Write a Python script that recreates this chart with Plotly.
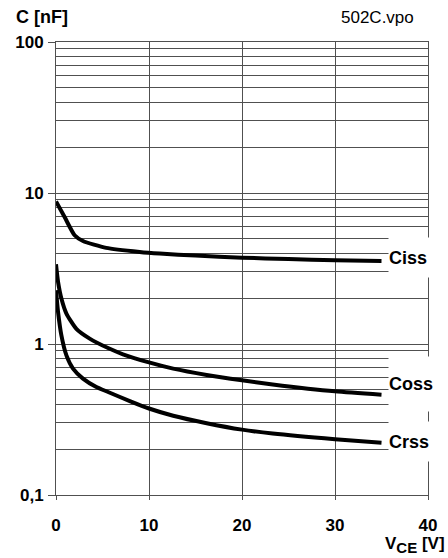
import plotly.graph_objects as go

# Data (VCE in V, C in nF)
ciss_v = [0, 0.94, 2.0, 2.9, 5.4, 9, 11.15, 15, 20, 25, 30, 35]
ciss_c = [8.8, 6.9, 5.25, 4.81, 4.33, 4.07, 3.97, 3.85, 3.73, 3.65, 3.58, 3.55]

coss_v = [0, 0.22, 0.58, 1.12, 2.19, 3.62, 5.6, 7.2, 10, 12.6, 16.2, 20, 23.3, 30, 35]
coss_c = [3.37, 2.58, 2.0, 1.59, 1.26, 1.086, 0.94, 0.855, 0.755, 0.687, 0.624, 0.575, 0.54, 0.486, 0.462]

crss_v = [0, 0.22, 0.58, 1.12, 1.83, 2.9, 4.34, 5.6, 8, 10, 12.6, 16.2, 20, 23.3, 30, 35]
crss_c = [2.27, 1.63, 1.14, 0.841, 0.687, 0.59, 0.519, 0.481, 0.417, 0.374, 0.335, 0.299, 0.271, 0.255, 0.234, 0.222]

x_ticks = [0, 10, 20, 30, 40]
y_ticks = [0.1, 1, 10, 100]
y_ticktext = ["0,1", "1", "10", "100"]
y_minor = [m * 10 ** e for e in (-1, 0, 1) for m in range(2, 10)]

FONT = "Liberation Sans, Arial, sans-serif"

fig = go.Figure()
for xs, ys in [(ciss_v, ciss_c), (coss_v, coss_c), (crss_v, crss_c)]:
    fig.add_trace(go.Scatter(x=xs, y=ys, mode="lines",
                             line=dict(color="black", width=4, shape="spline", smoothing=0.6),
                             showlegend=False, hoverinfo="skip"))

grid = "#505050"
tick_font = dict(family=FONT, size=17, color="black", weight="bold")
fig.update_xaxes(range=[0, 40], tickvals=x_ticks, ticks="outside", ticklen=4,
                 tickcolor=grid, showgrid=True, gridcolor=grid, gridwidth=1,
                 showline=True, linecolor=grid, linewidth=1, mirror=True,
                 zeroline=False, tickfont=tick_font, ticklabelstandoff=11)
fig.update_yaxes(type="log", range=[-1, 2], tickvals=y_ticks, ticktext=y_ticktext,
                 ticks="outside", ticklen=7, tickcolor=grid,
                 showgrid=True, gridcolor=grid, gridwidth=1,
                 minor=dict(tickvals=y_minor, showgrid=True, gridcolor=grid, gridwidth=1, ticks=""),
                 showline=True, linecolor=grid, linewidth=1, mirror=True,
                 zeroline=False, tickfont=tick_font, ticklabelstandoff=1)

ann_font = dict(family=FONT, size=18, color="black", weight="bold")
labels = [("Ciss", 0.571, 39), ("Coss", -0.267, 54), ("Crss", -0.648, 39)]
for txt, ly, h in labels:
    fig.add_annotation(x=35.67, y=ly, xref="x", yref="y", text=txt, showarrow=False,
                       xanchor="left", yanchor="middle", align="left", valign="middle",
                       width=54, height=h, borderpad=0, bgcolor="white",
                       font=ann_font)

PW, PH = 372, 453  # plot area size in px (for paper coords)
fig.add_annotation(x=(14 - 56) / PW, y=(495 - 17) / PH, xref="paper", yref="paper",
                   text="C [nF]", showarrow=False, xanchor="left", yanchor="middle",
                   font=ann_font)
fig.add_annotation(x=(416 - 56) / PW, y=(495 - 18) / PH, xref="paper", yref="paper",
                   text="502C.vpo", showarrow=False, xanchor="right", yanchor="middle",
                   font=dict(family=FONT, size=17, color="black"))
fig.add_annotation(x=(447 - 56) / PW, y=(495 - 558) / PH, xref="paper", yref="paper",
                   text="V<sub><span style='font-size:15px'>CE</span></sub> [V]",
                   showarrow=False, xanchor="right", yanchor="bottom",
                   font=dict(family=FONT, size=17, color="black", weight="bold"))

fig.update_layout(width=448, height=558,
                  margin=dict(l=56, r=20, t=42, b=63),
                  paper_bgcolor="white", plot_bgcolor="white")

fig.write_html("out.html")
